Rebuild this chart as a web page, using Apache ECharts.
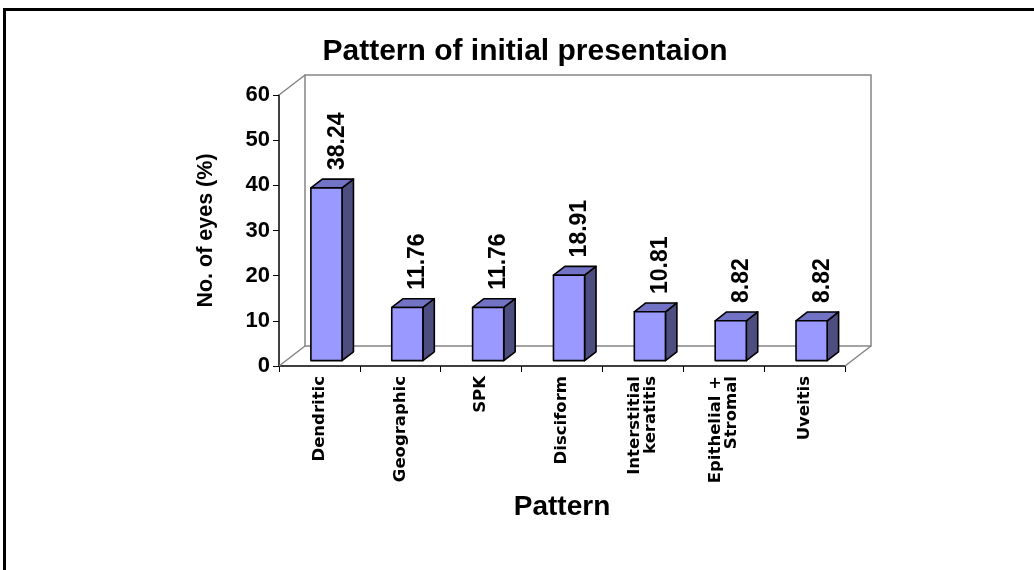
<!DOCTYPE html>
<html>
<head>
<meta charset="utf-8">
<script src="https://cdn.jsdelivr.net/npm/echarts@6/dist/echarts.min.js"></script>
<style>html,body{margin:0;padding:0;background:#fff}#c{width:1034px;height:570px}</style>
</head>
<body>
<div id="c"></div>
<script>
const categories = ['Dendritic', 'Geographic', 'SPK', 'Disciform', 'Interstitial\nkeratitis', 'Epithelial +\nStromal', 'Uveitis'];
const values = [38.24, 11.76, 11.76, 18.91, 10.81, 8.82, 8.82];
const yMin = 0, yMax = 60, yStep = 10;
const titleText = 'Pattern of initial presentaion';
const yName = 'No. of eyes (%)';
const xName = 'Pattern';

const DX = 26, DY = -20;      // depth of 3D box (px)
const FR = 0.27, BK = 0.71;   // bar front/back depth fractions
const FONT = 'Liberation Sans, Arial, sans-serif';

const chart = echarts.init(document.getElementById('c'), null, {renderer: 'canvas'});

function renderWall(params, api) {
  const cs = params.coordSys;
  const x0 = cs.x, x1 = cs.x + cs.width, yT = cs.y, yB = cs.y + cs.height;
  const gray = {stroke: '#858585', lineWidth: 1.5, fill: null};
  return {
    type: 'group',
    children: [
      {type: 'polyline', shape: {points: [[x0 + DX, yB + DY], [x0 + DX, yT + DY], [x1 + DX, yT + DY], [x1 + DX, yB + DY], [x0 + DX, yB + DY]]}, style: gray},
      {type: 'line', shape: {x1: x0, y1: yT, x2: x0 + DX, y2: yT + DY}, style: gray},
      {type: 'line', shape: {x1: x0, y1: yB, x2: x0 + DX, y2: yB + DY}, style: gray},
      {type: 'line', shape: {x1: x1, y1: yB, x2: x1 + DX, y2: yB + DY}, style: gray}
    ]
  };
}

function renderBar(params, api) {
  const i = api.value(0), v = api.value(1);
  const base = api.coord([i, 0]);
  const top = api.coord([i, v]);
  const band = api.size([1, 0])[0];
  const w = band * 0.385;
  const L = base[0] + DX * FR - w / 2, R = L + w;
  const Bt = base[1] + DY * FR, Tt = top[1] + DY * FR;
  const ddx = DX * (BK - FR), ddy = DY * (BK - FR);
  const edge = {stroke: '#000', lineWidth: 1.6, lineJoin: 'round'};
  return {
    type: 'group',
    children: [
      {type: 'polygon', shape: {points: [[R, Tt], [R + ddx, Tt + ddy], [R + ddx, Bt + ddy], [R, Bt]]}, style: Object.assign({fill: '#4d4d80'}, edge)},
      {type: 'polygon', shape: {points: [[L, Tt], [L + ddx, Tt + ddy], [R + ddx, Tt + ddy], [R, Tt]]}, style: Object.assign({fill: '#7373c6'}, edge)},
      {type: 'polygon', shape: {points: [[L, Tt], [R, Tt], [R, Bt], [L, Bt]]}, style: Object.assign({fill: '#9999ff'}, edge)},
      {type: 'text', x: (L + R) / 2 + ddx / 2 + 5, y: Tt + ddy - 9, rotation: Math.PI / 2,
       style: {text: v.toFixed(2), fill: '#000', font: 'bold 23px ' + FONT, align: 'left', verticalAlign: 'middle'}}
    ]
  };
}

const option = {
  animation: false,
  backgroundColor: '#fff',
  title: {
    text: titleText, left: 520, top: 32, textAlign: 'center',
    textStyle: {fontFamily: FONT, fontWeight: 'bold', fontSize: 30, color: '#000'}
  },
  grid: {left: 279, right: 189, top: 95, bottom: 204, containLabel: false},
  xAxis: {
    type: 'category', data: categories, boundaryGap: true,
    name: xName, nameLocation: 'middle', nameGap: 127,
    nameTextStyle: {fontFamily: FONT, fontWeight: 'bold', fontSize: 28, color: '#000'},
    axisLine: {lineStyle: {color: '#000', width: 1.5}},
    axisTick: {show: true, alignWithLabel: false, length: 6, lineStyle: {color: '#000', width: 1}},
    axisLabel: {rotate: 90, margin: 10, interval: 0, color: '#000', fontFamily: 'DejaVu Sans', fontWeight: 'bold', fontSize: 16.5, lineHeight: 16},
    splitLine: {show: false}
  },
  yAxis: {
    type: 'value', min: yMin, max: yMax, interval: yStep,
    name: yName, nameLocation: 'middle', nameGap: 62, nameRotate: 90,
    nameTextStyle: {fontFamily: FONT, fontWeight: 'bold', fontSize: 21.5, color: '#000'},
    axisLine: {show: true, lineStyle: {color: '#000', width: 1.5}},
    axisTick: {show: true, length: 6, lineStyle: {color: '#000', width: 1}},
    axisLabel: {margin: 9, color: '#000', fontFamily: FONT, fontWeight: 'bold', fontSize: 22},
    splitLine: {show: false}
  },
  graphic: [
    {type: 'line', shape: {x1: 3, y1: 9.5, x2: 1034, y2: 9.5}, style: {stroke: '#000', lineWidth: 3}, z: 100},
    {type: 'line', shape: {x1: 4.5, y1: 8, x2: 4.5, y2: 570}, style: {stroke: '#000', lineWidth: 3}, z: 100}
  ],
  series: [
    {type: 'custom', renderItem: renderWall, data: [[0, 0]], z: 1, silent: true},
    {type: 'custom', renderItem: renderBar, data: values.map((v, i) => [i, v]), z: 3,
     encode: {x: 0, y: 1}}
  ]
};
chart.setOption(option);
</script>
</body>
</html>
